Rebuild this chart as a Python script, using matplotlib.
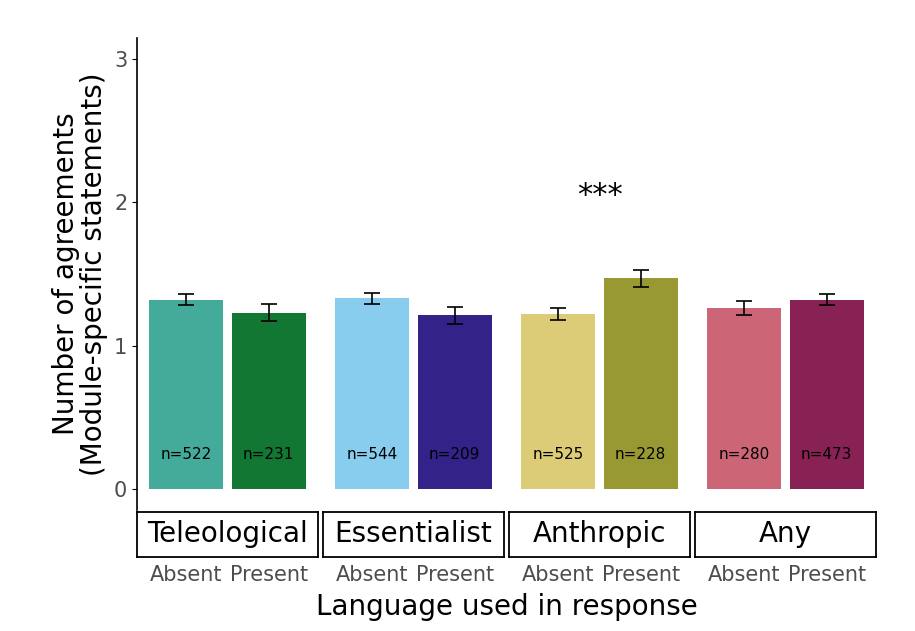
import matplotlib.pyplot as plt
from matplotlib.patches import Rectangle

facets = ["Teleological", "Essentialist", "Anthropic", "Any"]
levels = ["Absent", "Present"]
means = [[1.32, 1.23], [1.33, 1.21], [1.22, 1.47], [1.26, 1.32]]
errs = [[0.04, 0.06], [0.04, 0.06], [0.04, 0.06], [0.05, 0.04]]
counts = [[522, 231], [544, 209], [525, 228], [280, 473]]
colors = [["#44AA99", "#117733"], ["#88CCEE", "#332288"],
          ["#DDCC77", "#999933"], ["#CC6677", "#882255"]]
signif = ["", "", "***", ""]

W, H = 915, 631
fig = plt.figure(figsize=(W / 100, H / 100), dpi=100)
lefts = [137, 323, 509, 695]
pw = 181

for i, f in enumerate(facets):
    ax = fig.add_axes([lefts[i] / W, 1 - 510 / H, pw / W, (510 - 38) / H])
    x = [1, 2]
    ax.bar(x, means[i], width=0.9, color=colors[i])
    ax.errorbar(x, means[i], yerr=errs[i], fmt="none", ecolor="black",
                capsize=6, elinewidth=1.2, capthick=1.2)
    for xi, n in zip(x, counts[i]):
        ax.text(xi, 0.24, f"n={n}", ha="center", va="center", fontsize=11)
    if signif[i]:
        ax.text(1.5, 2.05, signif[i], ha="center", va="center", fontsize=22)
    ax.set_xlim(0.4, 2.6)
    ax.set_ylim(-0.15, 3.15)
    ax.set_xticks([])
    for s in ["top", "right", "bottom"]:
        ax.spines[s].set_visible(False)
    if i == 0:
        ax.set_yticks([0, 1, 2, 3])
        ax.tick_params(axis="y", labelsize=15, labelcolor="#4d4d4d")
        ax.spines["left"].set_linewidth(1.2)
        ax.set_ylabel("Number of agreements\n(Module-specific statements)",
                      fontsize=20, linespacing=1.0)
    else:
        ax.set_yticks([])
        ax.spines["left"].set_visible(False)

    sax = fig.add_axes([lefts[i] / W, 1 - 557 / H, pw / W, 45 / H])
    sax.set_xlim(0.4, 2.6)
    sax.set_ylim(0, 1)
    sax.set_yticks([])
    sax.set_xticks([1, 2])
    sax.set_xticklabels(levels, fontsize=15, color="#4d4d4d")
    sax.tick_params(axis="x", length=0, pad=6)
    for s in sax.spines.values():
        s.set_linewidth(1.3)
    sax.text(1.5, 0.5, f, ha="center", va="center", fontsize=20)

fig.text((137 + 876) / 2 / W, 1 - 607 / H, "Language used in response",
         ha="center", va="center", fontsize=20)
fig.savefig("out.png", dpi=100)
